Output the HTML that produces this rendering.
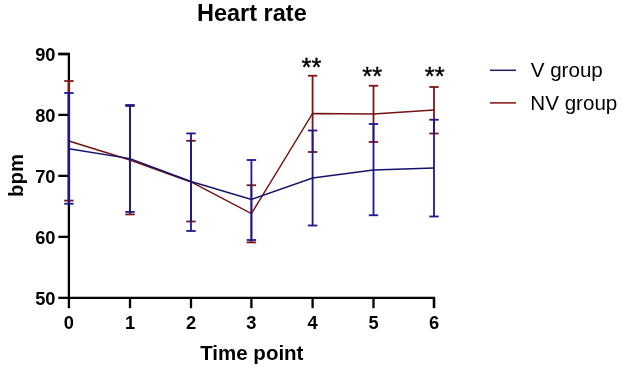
<!DOCTYPE html>
<html><head><meta charset="utf-8"><style>
html,body{margin:0;padding:0;background:#fff;width:624px;height:371px;overflow:hidden}
svg{display:block;will-change:transform}
text{font-family:"Liberation Sans",sans-serif;fill:#000}
.b{font-weight:bold}
</style></head><body>
<svg width="624" height="371" viewBox="0 0 624 371">
<text x="197.0" y="20.8" class="b" font-size="23.5">Heart rate</text>
<path d="M58.3,54 H68.9 V297.85 H434.00 V308" fill="none" stroke="#000" stroke-width="2.3"/>
<line x1="58.3" y1="54" x2="68.9" y2="54" stroke="#000" stroke-width="2.3"/>
<text x="55.5" y="60.65" text-anchor="end" class="b" font-size="18.3">90</text>
<line x1="58.3" y1="114.9" x2="68.9" y2="114.9" stroke="#000" stroke-width="2.3"/>
<text x="55.5" y="121.55" text-anchor="end" class="b" font-size="18.3">80</text>
<line x1="58.3" y1="175.85" x2="68.9" y2="175.85" stroke="#000" stroke-width="2.3"/>
<text x="55.5" y="182.50" text-anchor="end" class="b" font-size="18.3">70</text>
<line x1="58.3" y1="236.85" x2="68.9" y2="236.85" stroke="#000" stroke-width="2.3"/>
<text x="55.5" y="243.50" text-anchor="end" class="b" font-size="18.3">60</text>
<line x1="58.3" y1="297.85" x2="68.9" y2="297.85" stroke="#000" stroke-width="2.3"/>
<text x="55.5" y="304.50" text-anchor="end" class="b" font-size="18.3">50</text>
<line x1="68.90" y1="297.8" x2="68.90" y2="308.2" stroke="#000" stroke-width="2.3"/>
<text x="68.90" y="328.7" text-anchor="middle" class="b" font-size="18.3">0</text>
<line x1="130.00" y1="297.8" x2="130.00" y2="308.2" stroke="#000" stroke-width="2.3"/>
<text x="130.00" y="328.7" text-anchor="middle" class="b" font-size="18.3">1</text>
<line x1="191.00" y1="297.8" x2="191.00" y2="308.2" stroke="#000" stroke-width="2.3"/>
<text x="191.00" y="328.7" text-anchor="middle" class="b" font-size="18.3">2</text>
<line x1="251.40" y1="297.8" x2="251.40" y2="308.2" stroke="#000" stroke-width="2.3"/>
<text x="251.40" y="328.7" text-anchor="middle" class="b" font-size="18.3">3</text>
<line x1="312.60" y1="297.8" x2="312.60" y2="308.2" stroke="#000" stroke-width="2.3"/>
<text x="312.60" y="328.7" text-anchor="middle" class="b" font-size="18.3">4</text>
<line x1="373.50" y1="297.8" x2="373.50" y2="308.2" stroke="#000" stroke-width="2.3"/>
<text x="373.50" y="328.7" text-anchor="middle" class="b" font-size="18.3">5</text>
<line x1="434.00" y1="297.8" x2="434.00" y2="308.2" stroke="#000" stroke-width="2.3"/>
<text x="434.00" y="328.7" text-anchor="middle" class="b" font-size="18.3">6</text>
<line x1="68.90" y1="81" x2="68.90" y2="200.6" stroke="#7c1418" stroke-width="2.3"/>
<line x1="64.20" y1="81" x2="73.60" y2="81" stroke="#7c1418" stroke-width="1.8"/>
<line x1="64.20" y1="200.6" x2="73.60" y2="200.6" stroke="#7c1418" stroke-width="1.8"/>
<line x1="130.00" y1="106" x2="130.00" y2="214.4" stroke="#7c1418" stroke-width="1.8"/>
<line x1="125.30" y1="106" x2="134.70" y2="106" stroke="#7c1418" stroke-width="1.8"/>
<line x1="125.30" y1="214.4" x2="134.70" y2="214.4" stroke="#7c1418" stroke-width="1.8"/>
<line x1="191.00" y1="140.8" x2="191.00" y2="221.5" stroke="#7c1418" stroke-width="1.8"/>
<line x1="186.30" y1="140.8" x2="195.70" y2="140.8" stroke="#7c1418" stroke-width="1.8"/>
<line x1="186.30" y1="221.5" x2="195.70" y2="221.5" stroke="#7c1418" stroke-width="1.8"/>
<line x1="251.40" y1="185.25" x2="251.40" y2="242.4" stroke="#7c1418" stroke-width="1.8"/>
<line x1="246.70" y1="185.25" x2="256.10" y2="185.25" stroke="#7c1418" stroke-width="1.8"/>
<line x1="246.70" y1="242.4" x2="256.10" y2="242.4" stroke="#7c1418" stroke-width="1.8"/>
<line x1="312.60" y1="75.7" x2="312.60" y2="152" stroke="#7c1418" stroke-width="1.8"/>
<line x1="307.90" y1="75.7" x2="317.30" y2="75.7" stroke="#7c1418" stroke-width="1.8"/>
<line x1="307.90" y1="152" x2="317.30" y2="152" stroke="#7c1418" stroke-width="1.8"/>
<line x1="373.50" y1="85.75" x2="373.50" y2="142" stroke="#7c1418" stroke-width="1.8"/>
<line x1="368.80" y1="85.75" x2="378.20" y2="85.75" stroke="#7c1418" stroke-width="1.8"/>
<line x1="368.80" y1="142" x2="378.20" y2="142" stroke="#7c1418" stroke-width="1.8"/>
<line x1="434.00" y1="87" x2="434.00" y2="133.5" stroke="#7c1418" stroke-width="1.8"/>
<line x1="429.30" y1="87" x2="438.70" y2="87" stroke="#7c1418" stroke-width="1.8"/>
<line x1="429.30" y1="133.5" x2="438.70" y2="133.5" stroke="#7c1418" stroke-width="1.8"/>
<polyline points="68.90,141 130.00,160 191.00,182.0 251.40,213.6 312.60,113.5 373.50,114 434.00,110" fill="none" stroke="#741212" stroke-width="1.4" stroke-linejoin="miter"/>
<line x1="68.90" y1="93" x2="68.90" y2="203.75" stroke="#1c1892" stroke-width="2.3"/>
<line x1="64.20" y1="93" x2="73.60" y2="93" stroke="#1c1892" stroke-width="1.8"/>
<line x1="64.20" y1="203.75" x2="73.60" y2="203.75" stroke="#1c1892" stroke-width="1.8"/>
<line x1="130.00" y1="105" x2="130.00" y2="211.9" stroke="#1c1892" stroke-width="1.8"/>
<line x1="125.30" y1="105" x2="134.70" y2="105" stroke="#1c1892" stroke-width="1.8"/>
<line x1="125.30" y1="211.9" x2="134.70" y2="211.9" stroke="#1c1892" stroke-width="1.8"/>
<line x1="191.00" y1="133.4" x2="191.00" y2="231" stroke="#1c1892" stroke-width="1.8"/>
<line x1="186.30" y1="133.4" x2="195.70" y2="133.4" stroke="#1c1892" stroke-width="1.8"/>
<line x1="186.30" y1="231" x2="195.70" y2="231" stroke="#1c1892" stroke-width="1.8"/>
<line x1="251.40" y1="160" x2="251.40" y2="240" stroke="#1c1892" stroke-width="1.8"/>
<line x1="246.70" y1="160" x2="256.10" y2="160" stroke="#1c1892" stroke-width="1.8"/>
<line x1="246.70" y1="240" x2="256.10" y2="240" stroke="#1c1892" stroke-width="1.8"/>
<line x1="312.60" y1="130.5" x2="312.60" y2="225.5" stroke="#1c1892" stroke-width="1.8"/>
<line x1="307.90" y1="130.5" x2="317.30" y2="130.5" stroke="#1c1892" stroke-width="1.8"/>
<line x1="307.90" y1="225.5" x2="317.30" y2="225.5" stroke="#1c1892" stroke-width="1.8"/>
<line x1="373.50" y1="124" x2="373.50" y2="215.25" stroke="#1c1892" stroke-width="1.8"/>
<line x1="368.80" y1="124" x2="378.20" y2="124" stroke="#1c1892" stroke-width="1.8"/>
<line x1="368.80" y1="215.25" x2="378.20" y2="215.25" stroke="#1c1892" stroke-width="1.8"/>
<line x1="434.00" y1="119.75" x2="434.00" y2="216.5" stroke="#1c1892" stroke-width="1.8"/>
<line x1="429.30" y1="119.75" x2="438.70" y2="119.75" stroke="#1c1892" stroke-width="1.8"/>
<line x1="429.30" y1="216.5" x2="438.70" y2="216.5" stroke="#1c1892" stroke-width="1.8"/>
<polyline points="68.90,148.75 130.00,158.6 191.00,181.5 251.40,199.4 312.60,178 373.50,170 434.00,168" fill="none" stroke="#15126c" stroke-width="1.4" stroke-linejoin="miter"/>
<text x="311.4" y="76" text-anchor="middle" font-size="25.5" stroke="#000" stroke-width="0.4">**</text>
<text x="372.2" y="85" text-anchor="middle" font-size="25.5" stroke="#000" stroke-width="0.4">**</text>
<text x="434.8" y="85" text-anchor="middle" font-size="25.5" stroke="#000" stroke-width="0.4">**</text>
<line x1="490" y1="70.3" x2="516" y2="70.3" stroke="#1c1a58" stroke-width="1.5"/>
<line x1="490" y1="102.9" x2="516" y2="102.9" stroke="#8a2020" stroke-width="1.6"/>
<text x="530.7" y="76.5" font-size="20.6">V group</text>
<text x="530.3" y="109.6" font-size="20.6">NV group</text>
<text x="200.2" y="359.7" class="b" font-size="20.5">Time point</text>
<text transform="translate(22.8,196.9) rotate(-90)" x="0" y="0" class="b" font-size="20.4">bpm</text>
</svg>
</body></html>
